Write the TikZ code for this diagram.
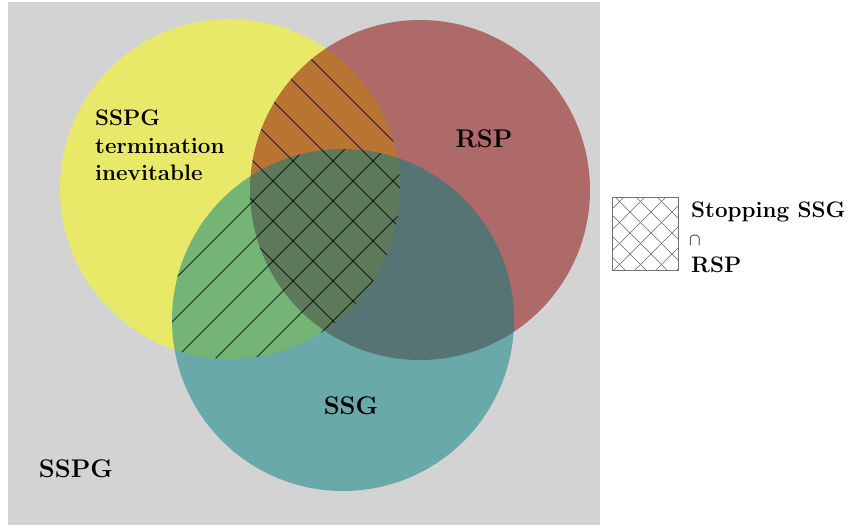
\documentclass[tikz,border=0pt]{standalone}
\usepackage{amssymb}
\definecolor{cyel}{RGB}{255,255,0}
\definecolor{cred}{RGB}{139,0,0}
\definecolor{cteal}{RGB}{0,128,128}
\definecolor{cbg}{RGB}{211,211,211}
\tikzset{
  setfill/.style={fill opacity=0.5, draw=none},
  biglabel/.style={inner sep=0pt, anchor=base, font=\fontsize{25.5}{30}\selectfont\bfseries},
  smalllabel/.style={inner sep=0pt, anchor=base west, font=\fontsize{22.4}{27.5}\selectfont\bfseries},
  hatchline/.style={draw=black, draw opacity=0.8, line width=0.8pt},
  leghatch/.style={draw=black!60, line width=0.55pt}
}
\begin{document}
\begin{tikzpicture}[x=1pt,y=-1pt]
\useasboundingbox (0,0) rectangle (848,527);
% background
\fill[cbg] (8,2) rectangle (600,525);
% sets
\coordinate (cy) at (230,189);
\coordinate (cr) at (420,190);
\coordinate (ct) at (343,320);
\fill[cyel, setfill] (cy) circle[radius=170];
\fill[cred, setfill] (cr) circle[radius=170];
\fill[cteal, setfill] (ct) circle[radius=171];
% hatching: yellow & red
\begin{scope}
  \clip (cy) circle[radius=170];
  \clip (cr) circle[radius=170];
  \foreach \c in {-308,-268,...,612}{
    \draw[hatchline] (\c,0) -- ({\c+600},600);
  }
\end{scope}
% hatching: yellow & teal
\begin{scope}
  \clip (cy) circle[radius=170];
  \clip (ct) circle[radius=171];
  \foreach \c in {14,54,...,1214}{
    \draw[hatchline] (\c,0) -- ({\c-700},700);
  }
\end{scope}
% labels
\node[biglabel] (rsp) at (484,147) {RSP};
\node[biglabel] (ssg) at (351,414) {SSG};
\node[biglabel] (sspg) at (76,477) {SSPG};
\node[smalllabel] (y1) at (95,125) {SSPG};
\node[smalllabel] (y2) at (95,153) {termination};
\node[smalllabel] (y3) at (95,180) {inevitable};
% legend
\node[draw=none, minimum width=65pt, minimum height=72pt, inner sep=0pt] (legbox) at (645.5,234) {};
\begin{scope}
  \clip (legbox.north west) rectangle (legbox.south east);
  \foreach \c in {400,421,...,700}{
    \draw[leghatch] (\c,150) -- ({\c+150},300);
    \draw[leghatch] ({\c+250},150) -- ({\c+100},300);
  }
\end{scope}
\draw[black!55, line width=0.8pt] (legbox.north west) rectangle (legbox.south east);
\node[smalllabel] (l1) at (691,217) {Stopping SSG};
\node[inner sep=0pt, anchor=base west, font=\fontsize{17}{20}\selectfont] (l2) at (689,245) {$\cap$};
\node[smalllabel] (l3) at (691,272) {RSP};
\end{tikzpicture}
\end{document}
